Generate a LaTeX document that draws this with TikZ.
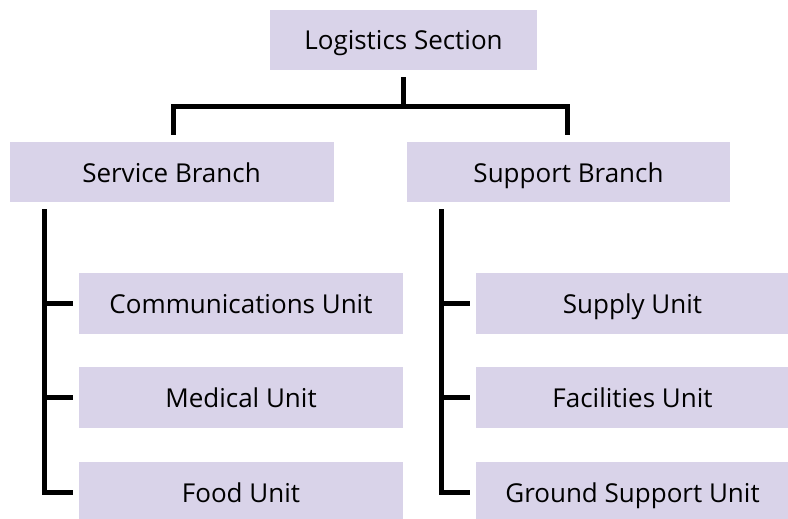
\documentclass[tikz,border=0pt]{standalone}
\usepackage{fontspec}
\setmainfont{Open Sans}
\usetikzlibrary{calc}
\definecolor{boxfill}{RGB}{217,211,233}
\tikzset{
  orgbox/.style={fill=boxfill, draw=none, inner sep=0pt, text height=25pt, text depth=5pt, font=\fontsize{26}{30}\selectfont},
  conn/.style={line width=5pt, draw=black, line join=miter, line cap=butt}
}
\begin{document}
\begin{tikzpicture}[x=1pt,y=-1pt]
\useasboundingbox (0,0) rectangle (788,519);
\begin{scope}
\clip (0,0) rectangle (788,519);
% boxes
\node[orgbox, minimum width=267pt, minimum height=60pt] (top) at (403.5,40) {Logistics Section};
\node[orgbox, minimum width=324pt, minimum height=60pt] (serv) at (171.5,172) {Service Branch};
\node[orgbox, minimum width=323pt, minimum height=60pt] (supp) at (568.5,172) {Support Branch};
\node[orgbox, minimum width=324pt, minimum height=61pt] (comm) at (241,303.5) {Communications Unit};
\node[orgbox, minimum width=324pt, minimum height=61pt] (med) at (241,397.5) {Medical Unit};
\node[orgbox, minimum width=324pt, minimum height=61pt] (food) at (241,492.5) {Food Unit};
\node[orgbox, minimum width=313pt, minimum height=61pt] (supply) at (632.5,303.5) {Supply Unit};
\node[orgbox, minimum width=313pt, minimum height=61pt] (fac) at (632.5,397.5) {Facilities Unit};
\node[orgbox, minimum width=313pt, minimum height=61pt] (ground) at (632.5,492.5) {Ground Support Unit};
\end{scope}
% top connectors
\coordinate (junc) at ($(top.south)+(0,36)$);
\draw[conn] ($(top.south)+(0,7)$) -- (junc);
\draw[conn] ($(serv.north)+(1.5,-7)$) |- (junc) -| ($(supp.north)+(-1.5,-7)$);
% service branch
\coordinate (sv) at ($(serv.south west)+(35,7)$);
\draw[conn] (sv) |- ($(food.west)+(-6,0)$);
\draw[conn] (sv |- comm.west) -- ($(comm.west)+(-6,0)$);
\draw[conn] (sv |- med.west) -- ($(med.west)+(-6,0)$);
% support branch
\coordinate (sp) at ($(supp.south west)+(35,7)$);
\draw[conn] (sp) |- ($(ground.west)+(-6,0)$);
\draw[conn] (sp |- supply.west) -- ($(supply.west)+(-6,0)$);
\draw[conn] (sp |- fac.west) -- ($(fac.west)+(-6,0)$);
\end{tikzpicture}
\end{document}
